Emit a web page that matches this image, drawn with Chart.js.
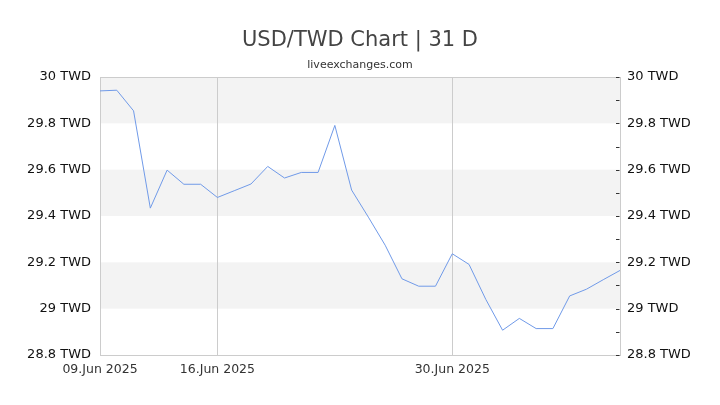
<!DOCTYPE html>
<html>
<head>
<meta charset="utf-8">
<script src="https://cdn.jsdelivr.net/npm/chart.js@4"></script>
<style>
  body { margin: 0; background: #fff; }
  canvas { display: block; }
</style>
</head>
<body>
<canvas id="usdTwd" width="720" height="405"></canvas>
<script>
// 09.Jun 2025 .. 10.Jul 2025
var dayLabels = [
  '09.Jun 2025', '10.Jun 2025', '11.Jun 2025', '12.Jun 2025', '13.Jun 2025', '14.Jun 2025',
  '15.Jun 2025', '16.Jun 2025', '17.Jun 2025', '18.Jun 2025', '19.Jun 2025', '20.Jun 2025',
  '21.Jun 2025', '22.Jun 2025', '23.Jun 2025', '24.Jun 2025', '25.Jun 2025', '26.Jun 2025',
  '27.Jun 2025', '28.Jun 2025', '29.Jun 2025', '30.Jun 2025', '01.Jul 2025', '02.Jul 2025',
  '03.Jul 2025', '04.Jul 2025', '05.Jul 2025', '06.Jul 2025', '07.Jul 2025', '08.Jul 2025',
  '09.Jul 2025', '10.Jul 2025'
]
var rateData = [
  29.94, 29.943, 29.854, 29.434, 29.598, 29.537, 29.537, 29.48,
  29.509, 29.538, 29.614, 29.564, 29.588, 29.588, 29.791, 29.512,
  29.395, 29.274, 29.129, 29.097, 29.097, 29.237, 29.191, 29.04,
  28.907, 28.958, 28.914, 28.914, 29.055, 29.084, 29.125, 29.165
]
var xTickLabels = ['09.Jun 2025', '16.Jun 2025', '30.Jun 2025']
var xGridLabels = ['16.Jun 2025', '30.Jun 2025']
var yMin = 28.8
var yMax = 30
var yStep = 0.2
var yMinorStep = 0.1

var fmt = (v) => (Math.round(v * 10) / 10) + ' TWD';

// alternating grey bands, border box and inner minor ticks on the right
var plotDecor = {
    id: 'plotDecor',
    beforeDraw: (chart) => {
        var c = chart.ctx, a = chart.chartArea, y = chart.scales.y;
        c.save();
        c.fillStyle = '#f3f3f3';
        for (var i = 1; i < y.ticks.length - 1; i += 2) {
            var top = y.getPixelForValue(y.ticks[i + 1].value);
            var bot = y.getPixelForValue(y.ticks[i].value);
            c.fillRect(a.left, top, a.right - a.left, bot - top);
        }
        c.restore();
    },
    beforeDatasetsDraw: (chart) => {
        var c = chart.ctx, a = chart.chartArea, y2 = chart.scales.y2;
        c.save();
        c.strokeStyle = '#cccccc';
        c.lineWidth = 1;
        c.strokeRect(Math.round(a.left) + 0.5, Math.round(a.top) + 0.5,
            Math.round(a.right - a.left), Math.round(a.bottom - a.top));
        c.strokeStyle = '#333';
        c.beginPath();
        y2.ticks.forEach((t) => {
            var py = Math.round(y2.getPixelForValue(t.value)) + 0.5;
            c.moveTo(a.right - 4, py);
            c.lineTo(a.right - 0.5, py);
        });
        c.stroke();
        c.restore();
    }
}

var ctx = document.getElementById('usdTwd').getContext('2d');

var myChart = new Chart(ctx, {
    type: 'line',
    data: {
        labels: dayLabels,
        datasets: [
            {
                label: 'USD/TWD',
                data: rateData,
                borderColor: 'rgb(112,154,232)',
                backgroundColor: 'rgb(112,154,232)',
                borderWidth: 1,
                pointRadius: 0,
                tension: 0,
            }
        ]
    },
    plugins: [plotDecor],
    options: {
        responsive: false,
        animation: false,
        layout: {
            padding: { left: 20, right: 20, top: 0, bottom: 20 }
        },
        plugins: {
            legend: { display: false },
            tooltip: { enabled: false },
            title: {
                display: true,
                text: 'USD/TWD Chart | 31 D',
                color: '#444',
                font: { family: 'DejaVu Sans', size: 21, weight: 'normal' },
                padding: { top: 28, bottom: 5 }
            },
            subtitle: {
                display: true,
                text: 'liveexchanges.com',
                color: '#333',
                font: { family: 'DejaVu Sans', size: 11 },
                padding: { top: 0, bottom: 5.6 }
            }
        },
        scales: {
            x: {
                afterFit: (s) => { s.height = 30; },
                border: { display: false },
                grid: {
                    drawTicks: false,
                    color: (c) => xGridLabels.includes(dayLabels[c.index]) ? '#cccccc' : 'rgba(0,0,0,0)'
                },
                ticks: {
                    autoSkip: false,
                    maxRotation: 0,
                    padding: 7,
                    color: '#333',
                    font: { family: 'DejaVu Sans', size: 12.5 },
                    callback: (v, i) => xTickLabels.includes(dayLabels[i]) ? dayLabels[i] : ''
                }
            },
            y: {
                position: 'left',
                min: yMin,
                max: yMax,
                afterFit: (s) => { s.width = 80; },
                border: { display: false },
                grid: { display: false, drawTicks: false },
                ticks: {
                    stepSize: yStep,
                    padding: 9,
                    color: '#111',
                    font: { family: 'DejaVu Sans', size: 13 },
                    callback: fmt
                }
            },
            y2: {
                position: 'right',
                min: yMin,
                max: yMax,
                afterFit: (s) => { s.width = 80; },
                border: { display: false },
                grid: { drawOnChartArea: false, drawTicks: false },
                ticks: {
                    stepSize: yMinorStep,
                    autoSkip: false,
                    padding: 7,
                    color: '#111',
                    font: { family: 'DejaVu Sans', size: 13 },
                    callback: (v) => Math.round(v * 10) % 2 === 0 ? fmt(v) : ''
                }
            }
        }
    }
})
</script>
</body>
</html>
